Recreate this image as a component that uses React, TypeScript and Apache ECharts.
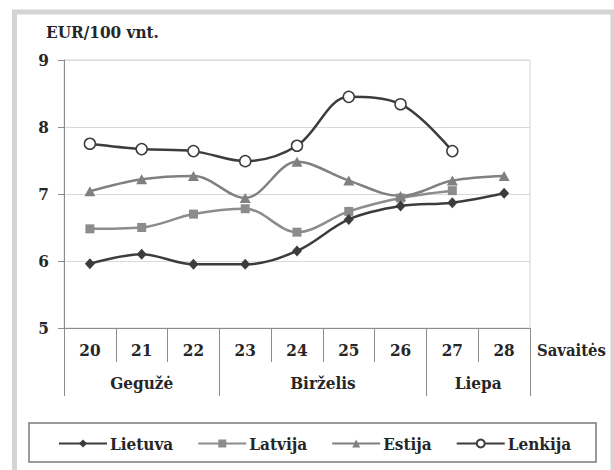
import React, { useEffect, useRef } from 'react';
import * as echarts from 'echarts';

const weeks = ['20', '21', '22', '23', '24', '25', '26', '27', '28'];
const months = ['Gegužė', 'Birželis', 'Liepa'];
const monthBounds = [0, 3, 7, 9];
const monthCenters = [1.5, 5, 8];
const yTicks = { min: 5, max: 9, step: 1 };

const lietuva = [5.96, 6.1, 5.95, 5.95, 6.15, 6.62, 6.82, 6.87, 7.01];
const latvija = [6.48, 6.5, 6.7, 6.78, 6.43, 6.74, 6.94, 7.05];
const estija = [7.04, 7.22, 7.27, 6.94, 7.48, 7.2, 6.97, 7.2, 7.27];
const lenkija = [7.75, 7.67, 7.64, 7.49, 7.72, 8.45, 8.34, 7.64];

const FONT = '"DejaVu Serif Condensed", "DejaVu Serif", serif';
const TXT = '#262626';
const AXIS = '#8c8c8c';

export default function App() {
  const ref = useRef<HTMLDivElement>(null);
  useEffect(() => {
    const chart = echarts.init(ref.current!, null, { renderer: 'svg' });
    const tb = { fontFamily: FONT, fontSize: 17, fontWeight: 'bold' as const, color: TXT };
    const mk = (name: string, data: number[], color: string, symbol: string, size: any, fill?: string, z = 2) => ({
      name,
      type: 'line',
      data,
      smooth: 0.35,
      symbol,
      symbolSize: size,
      z,
      lineStyle: { color, width: 2.5 },
      itemStyle: { color: fill ?? color, borderColor: color, borderWidth: fill ? 1.5 : 0 },
      emphasis: { disabled: true },
    });
    chart.setOption({
      animation: false,
      backgroundColor: '#ffffff',
      title: {
        text: 'EUR/100 vnt.',
        left: 41,
        top: 18,
        textStyle: tb,
      },
      graphic: [
        {
          type: 'rect',
          shape: { x: 14.5, y: 12, width: 598.5, height: 520 },
          style: { fill: 'none', stroke: '#d4d4d4', lineWidth: 5 },
          z: 0,
        },
        {
          type: 'rect',
          shape: { x: 29, y: 423, width: 567, height: 39 },
          style: { fill: 'none', stroke: '#7a7a7a', lineWidth: 1.5 },
          z: 0,
        },
      ],
      grid: {
        left: 64,
        right: 84,
        top: 60,
        bottom: 142,
        show: true,
        borderColor: '#d4d4d4',
        borderWidth: 1,
      },
      legend: {
        left: 58,
        top: 435,
        padding: 0,
        itemWidth: 48,
        itemHeight: 10,
        itemGap: 24,
        data: ['Lietuva', 'Latvija', 'Estija', 'Lenkija'],
        textStyle: { ...tb, padding: [0, 0, 0, -2] },
      },
      xAxis: [
        {
          type: 'category',
          data: weeks,
          boundaryGap: true,
          axisLine: { show: true, lineStyle: { color: AXIS, width: 1 } },
          axisTick: { show: true, length: 34, interval: 0, lineStyle: { color: AXIS } },
          axisLabel: { ...tb, margin: 13, interval: 0 },
          splitLine: { show: false },
          name: 'Savaitės',
          nameLocation: 'end',
          nameGap: 7,
          nameTextStyle: { ...tb, fontSize: 16.5, verticalAlign: 'top', padding: [14, 0, 0, 0] },
        },
        {
          type: 'value',
          min: 0,
          max: 9,
          position: 'bottom',
          offset: 0,
          axisLine: { show: false },
          splitLine: { show: false },
          axisTick: { show: true, customValues: monthBounds, length: 68, lineStyle: { color: AXIS } },
          axisLabel: {
            ...tb,
            customValues: monthCenters,
            margin: 46,
            formatter: (v: number) => months[monthCenters.indexOf(v)] ?? '',
          },
        },
      ],
      yAxis: {
        type: 'value',
        min: yTicks.min,
        max: yTicks.max,
        interval: yTicks.step,
        axisLine: { show: true, lineStyle: { color: AXIS, width: 1 } },
        axisTick: { show: true, length: 6, lineStyle: { color: AXIS } },
        axisLabel: { ...tb, margin: 15 },
        splitLine: { show: true, lineStyle: { color: '#d9d9d9', width: 1 } },
      },
      series: [
        mk('Lietuva', lietuva, '#3c3c3c', 'diamond', [10, 11], undefined, 3),
        mk('Latvija', latvija, '#8c8c8c', 'rect', 9, undefined, 2),
        mk('Estija', estija, '#808080', 'triangle', [11, 10], undefined, 2),
        mk('Lenkija', lenkija, '#3c3c3c', 'circle', 11, '#ffffff', 4),
      ],
    });
    return () => chart.dispose();
  }, []);
  return <div ref={ref} style={{ position: 'fixed', left: 0, top: 0, width: 614, height: 470 }} />;
}
